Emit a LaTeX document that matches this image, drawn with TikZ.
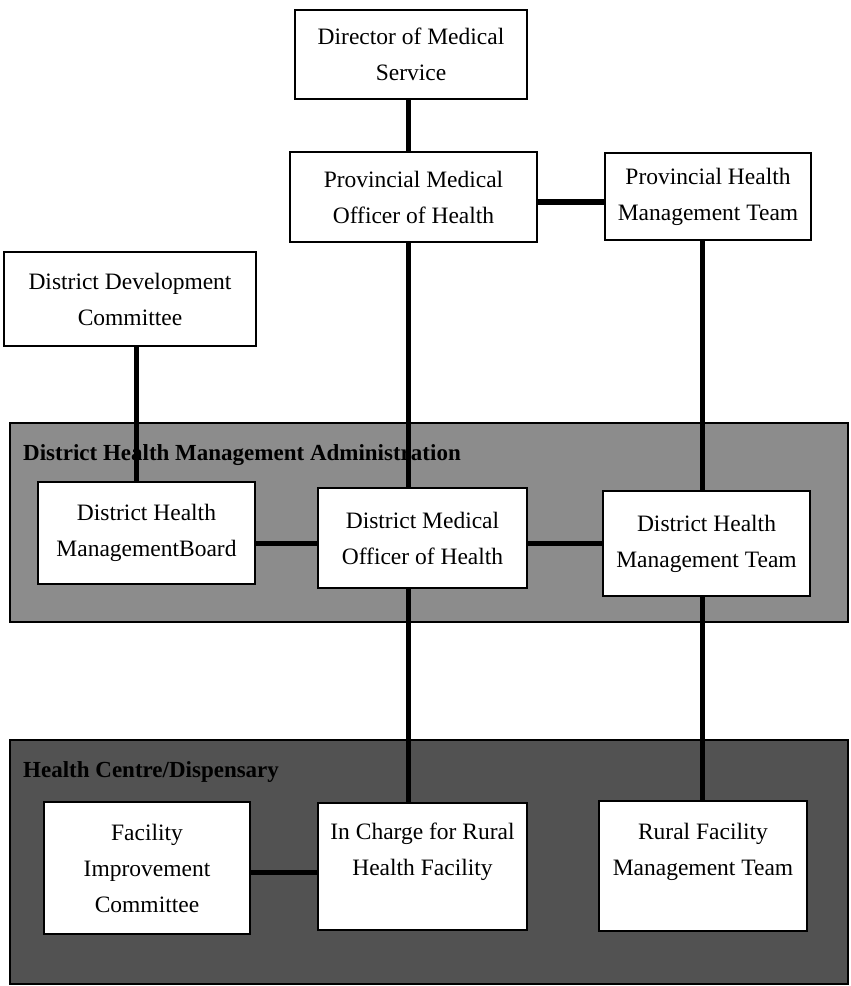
\documentclass[tikz,border=0pt]{standalone}
\usepackage{fontspec}
\setmainfont{Liberation Serif}
\begin{document}
\begin{tikzpicture}[x=1pt,y=-1pt,
  box/.style={draw=black, line width=1.6pt, fill=white, inner sep=0pt, align=center,
              font=\fontsize{23.5}{36}\selectfont},
  band/.style={draw=black, line width=1.8pt, inner sep=0pt},
  link/.style={line width=5pt, black},
  bandlabel/.style={anchor=west, inner sep=0pt, font=\fontsize{23}{26}\selectfont\bfseries}]
\useasboundingbox (0,0) rectangle (851,986);
\fill[white] (0,0) rectangle (851,986);

% bands
\node[band, fill=black!45, minimum width=838pt, minimum height=199pt] (adm) at (429,522.5) {};
\node[band, fill=black!68, minimum width=838pt, minimum height=244pt] (hcd) at (429,862) {};
\node[bandlabel] (admlabel) at (23,455) {District Health Management Administration};
\node[bandlabel] (hcdlabel) at (23,772) {Health Centre/Dispensary};

% column / row references
\coordinate (colA) at (408,0);
\coordinate (colB) at (702,0);
\coordinate (colC) at (136,0);
\coordinate (rowA) at (0,202);
\coordinate (rowB) at (0,543);
\coordinate (rowC) at (0,872);

% box centres
\path
  (411,54.5)  coordinate (pdir)
  (413.5,197) coordinate (ppmoh)
  (708,196.5) coordinate (pphmt)
  (130,299)   coordinate (pddc)
  (146.5,533) coordinate (pdhmb)
  (422.5,538) coordinate (pdmoh)
  (706.5,543.5) coordinate (pdhmt)
  (147,868)   coordinate (pfic)
  (422.5,866.5) coordinate (picr)
  (703,866)   coordinate (prfmt);

\node[box, minimum width=232pt, minimum height=89pt] (dir) at (pdir) {Director of Medical\\Service};
\node[box, minimum width=247pt, minimum height=90pt] (pmoh) at (ppmoh) {Provincial Medical\\Officer of Health};
\node[box, minimum width=206pt, minimum height=87pt] (phmt) at (pphmt) {Provincial Health\\Management Team};
\node[box, minimum width=252pt, minimum height=94pt] (ddc) at (pddc) {District Development\\Committee};
\node[box, minimum width=217pt, minimum height=102pt] (dhmb) at (pdhmb) {District Health\\ManagementBoard};
\node[box, minimum width=209pt, minimum height=100pt] (dmoh) at (pdmoh) {District Medical\\Officer of Health};
\node[box, minimum width=207pt, minimum height=105pt] (dhmt) at (pdhmt) {District Health\\Management Team};
\node[box, minimum width=206pt, minimum height=132pt] (fic) at (pfic) {Facility\\Improvement\\Committee};
\node[box, minimum width=209pt, minimum height=127pt] (icr) at (picr) {In Charge for Rural\\Health Facility\\[-13pt]\strut};
\node[box, minimum width=208pt, minimum height=130pt] (rfmt) at (prfmt) {Rural Facility\\Management Team\\[-13pt]\strut};

% connectors
\draw[link] (dir.south -| colA) -- (pmoh.north -| colA);
\draw[link, line width=6pt] (pmoh.east |- rowA) -- (phmt.west |- rowA);
\draw[link] (pmoh.south -| colA) -- (dmoh.north -| colA);
\draw[link] (phmt.south -| colB) -- (dhmt.north -| colB);
\draw[link] (ddc.south -| colC) -- (dhmb.north -| colC);
\draw[link] (dhmb.east |- rowB) -- (dmoh.west |- rowB);
\draw[link] (dmoh.east |- rowB) -- (dhmt.west |- rowB);
\draw[link] (dmoh.south -| colA) -- (icr.north -| colA);
\draw[link] (dhmt.south -| colB) -- (rfmt.north -| colB);
\draw[link] (fic.east |- rowC) -- (icr.west |- rowC);
\end{tikzpicture}
\end{document}
